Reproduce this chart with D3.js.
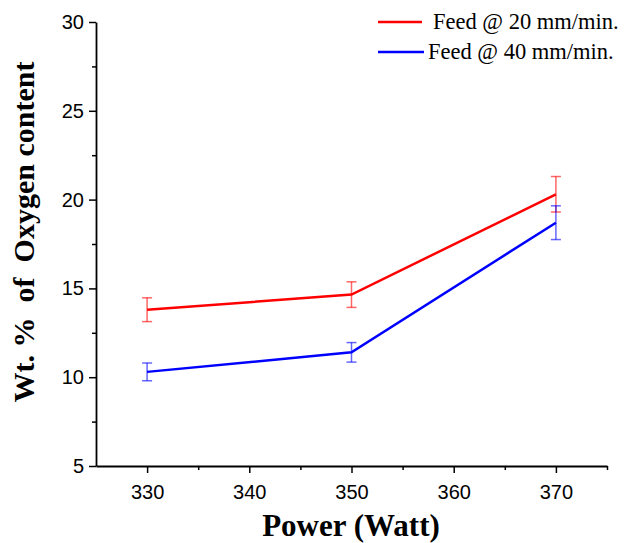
<!DOCTYPE html>
<html lang="en">
<head>
<meta charset="UTF-8">
<title>Oxygen content vs power</title>
<script src="https://d3js.org/d3.v7.min.js"></script>
<style>
    body { margin: 0; background: #fff; }
    .tick text { font-family: "Liberation Sans", Arial, sans-serif; font-size: 20px; fill: #000; }
    .title { font-family: "Liberation Serif", "Times New Roman", serif; font-weight: bold; fill: #000; }
    .legend { font-family: "Liberation Serif", "Times New Roman", serif; font-size: 22.5px; fill: #000; }
</style>
</head>
<body>
<svg id="chart" width="628" height="543"></svg>
<script>
// Data
const power = [330, 350, 370];
const feed20 = [13.8, 14.65, 20.3];
const feed20Err = [0.67, 0.72, 1.0];
const feed40 = [10.3, 11.4, 18.7];
const feed40Err = [0.5, 0.55, 0.95];
const seriesNames = ["Feed @ 20 mm/min.", "Feed @ 40 mm/min."];
const xTicks = [330, 340, 350, 360, 370];
const yTicks = [5, 10, 15, 20, 25, 30];

const svg = d3.select("#chart");
const x = d3.scaleLinear().domain([325, 375]).range([96, 607]);
const y = d3.scaleLinear().domain([5, 30]).range([466, 22]);

// minor ticks
svg.append("g")
    .attr("transform", "translate(0,466)")
    .call(d3.axisBottom(x).tickValues(d3.range(335, 376, 10)).tickSize(4).tickFormat(""))
    .call(g => g.select(".domain").remove())
    .selectAll("line").attr("stroke-width", 1.5);
svg.append("g")
    .attr("transform", "translate(96,0)")
    .call(d3.axisLeft(y).tickValues(d3.range(7.5, 30, 5)).tickSize(4).tickFormat(""))
    .call(g => g.select(".domain").remove())
    .selectAll("line").attr("stroke-width", 1.5);

// major axes
const xAxis = svg.append("g")
    .attr("transform", "translate(0,466)")
    .call(d3.axisBottom(x).tickValues(xTicks).tickSize(7).tickSizeOuter(0).tickPadding(12));
const yAxis = svg.append("g")
    .attr("transform", "translate(96,0)")
    .call(d3.axisLeft(y).tickValues(yTicks).tickSize(7).tickSizeOuter(0).tickPadding(5));
[xAxis, yAxis].forEach(a => {
    a.select(".domain").attr("stroke-width", 1.8);
    a.selectAll(".tick line").attr("stroke-width", 1.5);
});

// axis titles
svg.append("text").attr("class", "title")
    .attr("x", 351).attr("y", 536)
    .attr("text-anchor", "middle").style("font-size", "31px")
    .text("Power (Watt)");
svg.append("text").attr("class", "title")
    .attr("transform", "translate(34,232) rotate(-90)")
    .attr("text-anchor", "middle").style("font-size", "30px")
    .attr("xml:space", "preserve")
    .text("Wt. %  of  Oxygen content");

const series = [
    { name: seriesNames[0], values: feed20, err: feed20Err, color: "#ff0000", errColor: "rgba(255,0,0,0.6)" },
    { name: seriesNames[1], values: feed40, err: feed40Err, color: "#0000ff", errColor: "rgba(0,0,255,0.6)" }
];

const line = d3.line().x((d, i) => x(power[i])).y(d => y(d));

series.forEach(s => {
    const g = svg.append("g");
    const bars = g.selectAll("g.err").data(s.values).enter().append("g").attr("class", "err");
    bars.append("line")
        .attr("x1", (d, i) => x(power[i])).attr("x2", (d, i) => x(power[i]))
        .attr("y1", (d, i) => y(d + s.err[i])).attr("y2", (d, i) => y(d - s.err[i]))
        .attr("stroke", s.errColor).attr("stroke-width", 1.5);
    [1, -1].forEach(sign => {
        bars.append("line")
            .attr("x1", (d, i) => x(power[i]) - 5).attr("x2", (d, i) => x(power[i]) + 5)
            .attr("y1", (d, i) => y(d + sign * s.err[i])).attr("y2", (d, i) => y(d + sign * s.err[i]))
            .attr("stroke", s.errColor).attr("stroke-width", 1.5);
    });
    g.append("path").datum(s.values)
        .attr("d", line).attr("fill", "none")
        .attr("stroke", s.color).attr("stroke-width", 2.5);
});

// legend
const legend = [
    { y: 22, x1: 378, x2: 422, tx: 433 },
    { y: 52, x1: 378, x2: 424, tx: 428 }
];
legend.forEach((l, i) => {
    svg.append("line").attr("x1", l.x1).attr("x2", l.x2).attr("y1", l.y).attr("y2", l.y)
        .attr("stroke", series[i].color).attr("stroke-width", 2.5);
    svg.append("text").attr("class", "legend")
        .attr("x", l.tx).attr("y", l.y + 7).text(series[i].name);
});
</script>
</body>
</html>
